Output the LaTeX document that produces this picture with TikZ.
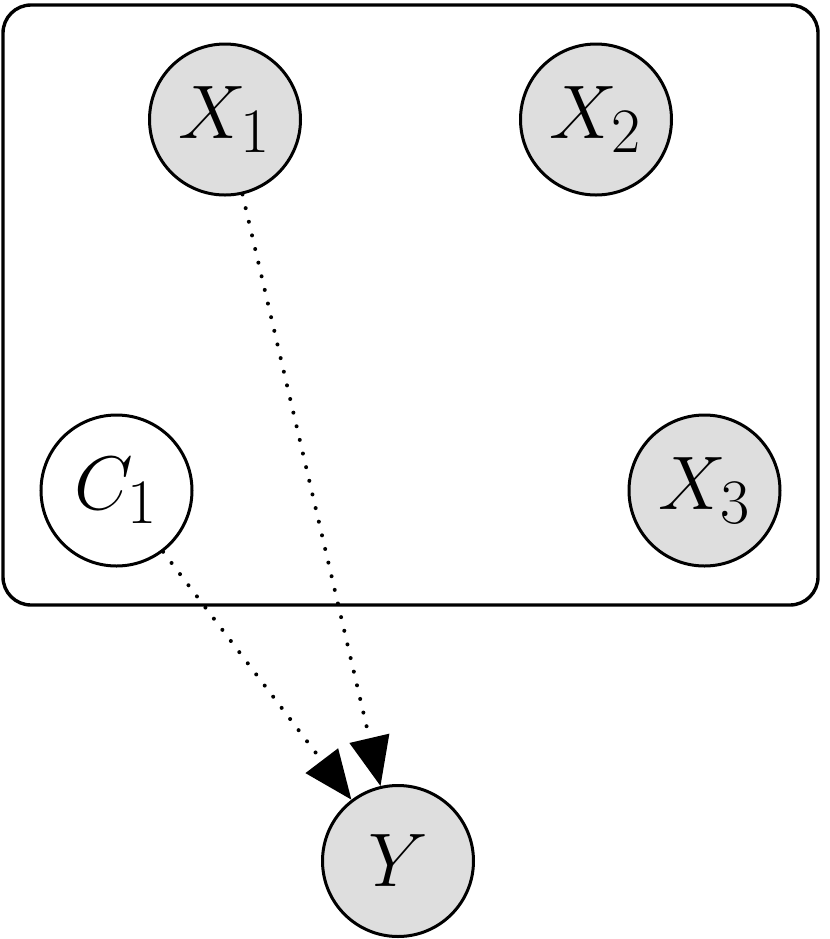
\documentclass[tikz,border=0pt]{standalone}
\usepackage{graphicx}
\usetikzlibrary{arrows.meta}
\definecolor{nodegray}{RGB}{222,222,222}
\newcommand{\varlabel}[1]{\scalebox{1.527}{\Huge$#1$}}
\tikzset{
  var/.style={circle, draw=black, line width=1.5pt, minimum size=75.5pt, inner sep=0pt},
  obs/.style={var, fill=nodegray},
  lat/.style={var, fill=white},
  dep/.style={line width=2pt, line cap=round, dash pattern=on 0pt off 7pt, -{Triangle[length=24.5pt, width=20pt]}},
  plate/.style={draw=black, line width=1.7pt, rounded corners=14pt}
}
\begin{document}
\begin{tikzpicture}[x=0.5pt, y=-0.5pt]
\useasboundingbox (0,0) rectangle (830,939);
\draw[plate] (3,5) rectangle (818,605);
\node[obs] (x1) at (225,119.5) {\varlabel{X_1}};
\node[obs] (x2) at (596,119.5) {\varlabel{X_2}};
\node[lat] (c1) at (116.5,490.5) {\varlabel{C_1}};
\node[obs] (x3) at (704.5,490.5) {\varlabel{X_3}};
\node[obs] (y) at (398,861) {\varlabel{Y}};
\draw[dep] (c1) -- (y);
\draw[dep] (x1) -- (y);
\end{tikzpicture}
\end{document}
